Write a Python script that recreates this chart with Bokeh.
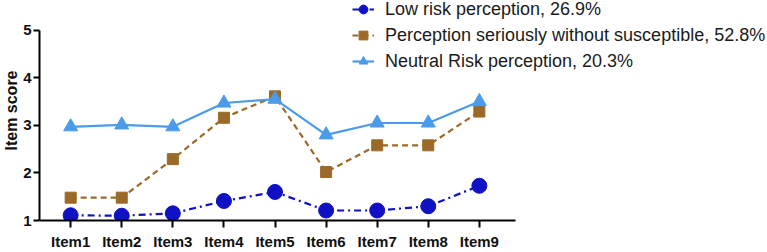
from bokeh.plotting import figure
from bokeh.models import Range1d, FixedTicker, Legend, LegendItem
from bokeh.embed import file_html
from bokeh.resources import INLINE

items = ["Item1", "Item2", "Item3", "Item4", "Item5", "Item6", "Item7", "Item8", "Item9"]
low_risk = [1.11, 1.10, 1.15, 1.41, 1.60, 1.21, 1.21, 1.30, 1.73]
serious = [1.48, 1.48, 2.29, 3.16, 3.61, 2.02, 2.58, 2.58, 3.29]
neutral = [2.97, 3.01, 2.97, 3.47, 3.55, 2.80, 3.05, 3.05, 3.50]
series_names = ["Low risk perception, 26.9%",
                "Perception seriously without susceptible, 52.8%",
                "Neutral Risk perception, 20.3%"]
y_ticks = [1, 2, 3, 4, 5]
y_title = "Item score"

xs = list(range(1, len(items) + 1))

# frame spans the empty area above/right of the axes so the legend can sit there
p = figure(width=767, height=252, output_backend="svg", toolbar_location=None,
           x_range=Range1d(0.39, 14.64), y_range=Range1d(1, 5.625),
           min_border_left=36, min_border_right=0, min_border_top=0,
           min_border_bottom=30)
p.outline_line_color = None
p.xgrid.visible = False
p.ygrid.visible = False
p.background_fill_color = "white"

FONT = "Liberation Sans"
for ax in (p.xaxis[0], p.yaxis[0]):
    ax.axis_line_width = 2
    ax.axis_line_color = "black"
    ax.major_tick_line_width = 2
    ax.major_tick_line_color = "black"
    ax.major_tick_in = 0
    ax.major_tick_out = 6
    ax.minor_tick_line_color = None
    ax.minor_tick_in = 0
    ax.minor_tick_out = 0
    ax.major_label_text_font = FONT
    ax.major_label_text_font_style = "bold"
    ax.major_label_text_font_size = "15px"
    ax.major_label_text_color = "#111111"

p.xaxis.ticker = FixedTicker(ticks=xs)
p.xaxis.major_label_overrides = {x: n for x, n in zip(xs, items)}
p.xaxis.major_label_standoff = 5
p.xaxis.major_tick_out = 7
p.xaxis.bounds = (0.39, 9.7)
p.yaxis.ticker = FixedTicker(ticks=y_ticks)
p.yaxis.major_label_standoff = 2
p.yaxis.bounds = (1, 5)
p.yaxis.axis_label = y_title
p.yaxis.axis_label_standoff = 0
p.yaxis.axis_label_text_font = FONT
p.yaxis.axis_label_text_font_style = "bold"
p.yaxis.axis_label_text_font_size = "16px"
p.yaxis.axis_label_text_color = "#111111"

c_low = "#1010C4"
c_ser = "#9C6A28"
c_neu = "#4C9BEA"

l1 = p.line(xs, low_risk, line_color=c_low, line_width=2.2, line_dash="7 4 2 4")
m1 = p.scatter(xs, low_risk, marker="circle", size=15, fill_color=c_low, line_color=c_low)
l2 = p.line(xs, serious, line_color=c_ser, line_width=2.2, line_dash="6 4")
m2 = p.scatter(xs, serious, marker="square", size=11, fill_color=c_ser, line_color=c_ser)
l3 = p.line(xs, neutral, line_color=c_neu, line_width=2.2)
m3 = p.scatter(xs, neutral, marker="triangle", size=14, fill_color=c_neu, line_color=c_neu)

legend = Legend(items=[LegendItem(label=series_names[0], renderers=[l1, m1]),
                       LegendItem(label=series_names[1], renderers=[l2, m2]),
                       LegendItem(label=series_names[2], renderers=[l3, m3])],
                location=(313, 148), padding=0, margin=0, spacing=4,
                glyph_width=22, glyph_height=22, label_height=22, label_standoff=11,
                border_line_color=None, background_fill_alpha=0,
                label_text_font=FONT, label_text_font_size="18px",
                label_text_color="#1a1a1a")
p.add_layout(legend, "center")

open("out.html", "w").write(file_html(p, INLINE))
